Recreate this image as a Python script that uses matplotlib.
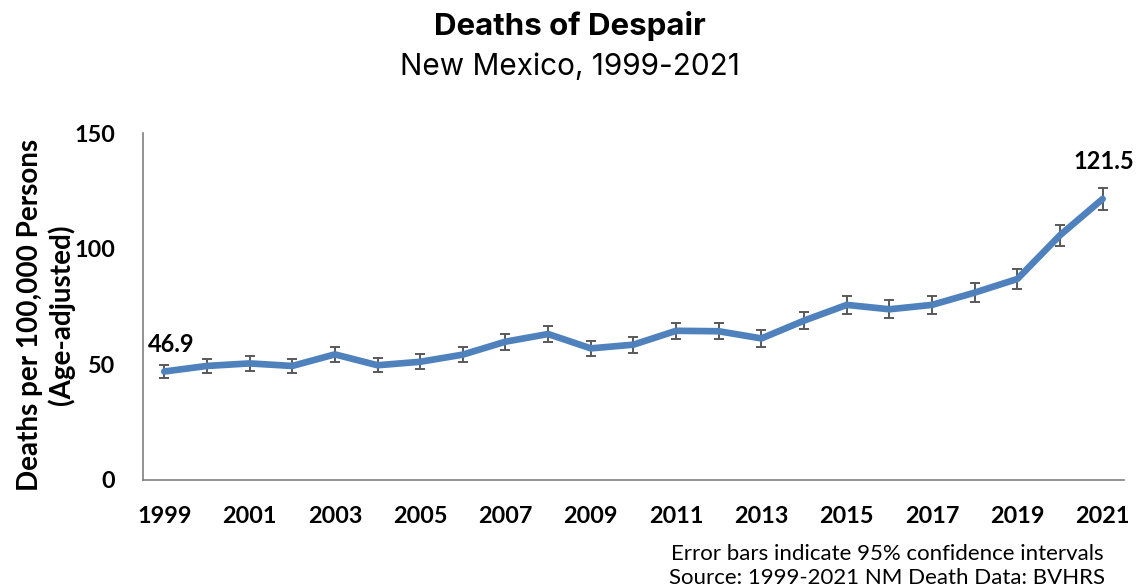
import matplotlib
matplotlib.use("Agg")
import matplotlib.pyplot as plt

years = list(range(1999, 2022))
rates = [46.9, 49.3, 50.4, 49.3, 54.3, 49.6, 51.1, 54.2, 59.8, 63.1, 56.9, 58.5,
         64.5, 64.3, 61.2, 68.9, 75.7, 73.8, 75.7, 81.0, 86.9, 105.8, 121.5]
ci_half = [3.0, 3.1, 3.2, 3.1, 3.3, 3.1, 3.2, 3.3, 3.4, 3.5, 3.4, 3.4,
           3.5, 3.5, 3.5, 3.7, 3.9, 3.8, 3.9, 4.1, 4.2, 4.6, 4.8]
xtick_years = years[::2]
yticks = [0, 50, 100, 150]

blue = "#4F81BD"
fig = plt.figure(figsize=(11.39, 5.87), dpi=100)
ax = fig.add_axes([0.1255, 0.1823, 0.8613, 0.5911])

ax.errorbar(years, rates, yerr=ci_half, color=blue, lw=4.8, ecolor="#595959",
            elinewidth=1.4, capsize=3.5, capthick=1.4, solid_capstyle="round")

ax.set_xlim(1998.5, 2021.5)
ax.set_ylim(0, 150)
ax.set_xticks(xtick_years)
ax.set_yticks(yticks)
ax.tick_params(length=0)
ax.tick_params(axis="x", pad=19)
ax.tick_params(axis="y", pad=20)
for lab in ax.get_xticklabels() + ax.get_yticklabels():
    lab.set_fontfamily("Lato")
    lab.set_fontweight("bold")
    lab.set_fontsize(16.8)
for s in ["top", "right"]:
    ax.spines[s].set_visible(False)
for s in ["left", "bottom"]:
    ax.spines[s].set_color("#7f7f7f")
    ax.spines[s].set_linewidth(1.2)

# labels on first and last points
label_offsets = {0: (5, 11), len(years) - 1: (1, 19)}
for i, off in label_offsets.items():
    ax.annotate(f"{rates[i]}", (years[i], rates[i]), xytext=off,
                textcoords="offset points", ha="center", va="bottom",
                fontfamily="Lato", fontweight="bold", fontsize=17)

fig.text(0.040, 0.463, "Deaths per 100,000 Persons\n(Age-adjusted)", rotation=90,
         ha="center", va="center", fontfamily="Lato", fontweight="bold",
         fontsize=20, linespacing=1.2)

fig.text(0.5, 0.955, "Deaths of Despair", ha="center", va="center",
         fontfamily="Inter", fontweight="bold", fontsize=22.5)
fig.text(0.5, 0.886, "New Mexico, 1999-2021", ha="center", va="center",
         fontfamily="Inter", fontsize=21.4)

fig.text(0.779, 0.036, "Error bars indicate 95% confidence intervals\nSource: 1999-2021 NM Death Data: BVHRS",
         ha="center", va="center", fontfamily="Lato", fontsize=16, linespacing=1.27)

fig.savefig("out.png", dpi=100)
